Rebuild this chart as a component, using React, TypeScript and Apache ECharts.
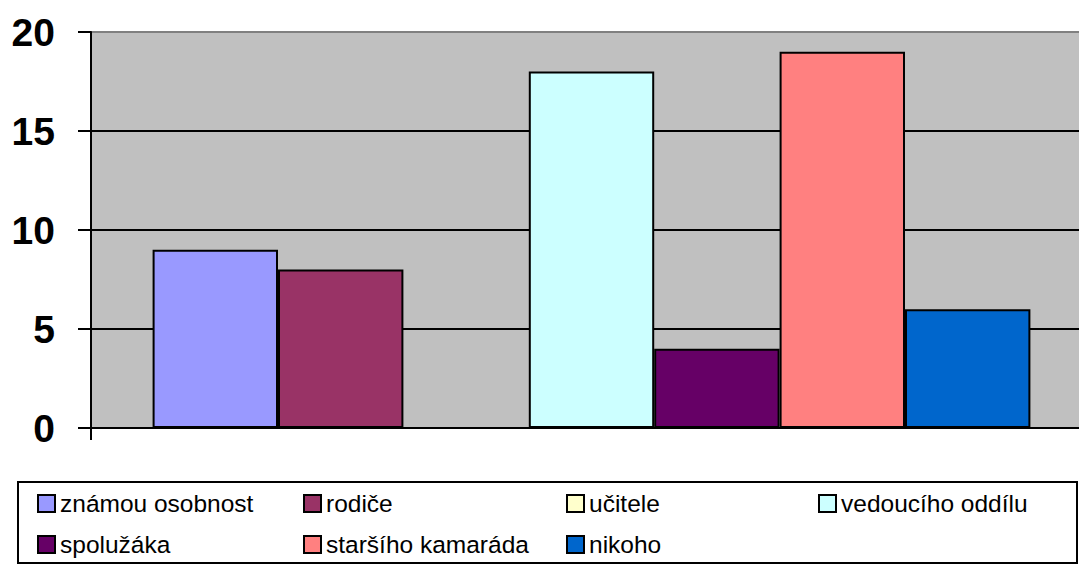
import React, { useEffect, useRef } from "react";
import * as echarts from "echarts";

const categories = [""];
const seriesNames = [
  "známou osobnost",
  "rodiče",
  "učitele",
  "vedoucího oddílu",
  "spolužáka",
  "staršího kamaráda",
  "nikoho",
];
const seriesValues = [9, 8, 0, 18, 4, 19, 6];
const seriesColors = ["#9999FF", "#993366", "#FFFFCC", "#CCFFFF", "#660066", "#FF8080", "#0066CC"];
const yTicks = [0, 5, 10, 15, 20];

const legendPos = [
  [37, 491],
  [303, 491],
  [566, 491],
  [818, 491],
  [37, 532],
  [303, 532],
  [566, 532],
];

const FONT = "'Liberation Sans', Arial, sans-serif";

export default function App() {
  const ref = useRef<HTMLDivElement>(null);
  useEffect(() => {
    if (!ref.current) return;
    const chart = echarts.init(ref.current, undefined, { renderer: "svg" });
    chart.setOption({
      animation: false,
      textStyle: { fontFamily: FONT },
      grid: {
        left: 91,
        top: 32,
        right: 8,
        bottom: 137,
        show: true,
        backgroundColor: "#C0C0C0",
        borderColor: "#808080",
        borderWidth: 2,
      },
      xAxis: {
        type: "category",
        data: categories,
        axisLine: { lineStyle: { color: "#000", width: 2 } },
        axisTick: { show: true, length: 12, lineStyle: { color: "#000", width: 2 } },
        axisLabel: { show: false },
      },
      yAxis: {
        type: "value",
        min: yTicks[0],
        max: yTicks[yTicks.length - 1],
        interval: 5,
        axisLine: { show: true, lineStyle: { color: "#000", width: 2 } },
        axisTick: { show: true, length: 13, lineStyle: { color: "#000", width: 2 } },
        axisLabel: {
          margin: 36,
          fontSize: 39,
          fontWeight: "bold",
          color: "#000",
          fontFamily: FONT,
        },
        splitLine: {
          show: true,
          lineStyle: { color: ["#000", "#000", "#000", "#000", "#808080"], width: 2 },
        },
      },
      legend: seriesNames.map((n, i) => ({
        data: [n],
        left: legendPos[i][0],
        top: legendPos[i][1],
        icon: "rect",
        itemWidth: 17,
        itemHeight: 17,
        itemGap: 0,
        textStyle: { fontSize: 24.5, color: "#000", fontFamily: FONT, padding: [0, 0, 0, 0] },
        itemStyle: { borderColor: "#000", borderWidth: 2 },
        padding: 0,
      })),
      graphic: [
        {
          type: "rect",
          shape: { x: 18, y: 482, width: 1059, height: 81 },
          style: { fill: "none", stroke: "#000", lineWidth: 2 },
        },
      ],
      series: seriesNames.map((n, i) => ({
        type: "bar",
        name: n,
        data: [seriesValues[i]],
        barWidth: 125.4,
        barGap: "0%",
        itemStyle: { color: seriesColors[i], borderColor: "#000", borderWidth: 2 },
      })),
    });
    return () => chart.dispose();
  }, []);
  return (
    <div
      style={{
        position: "fixed",
        left: 0,
        top: 0,
        width: 1079,
        height: 565,
        overflow: "hidden",
        background: "#fff",
      }}
    >
      <div ref={ref} style={{ width: 1100, height: 565 }} />
    </div>
  );
}
